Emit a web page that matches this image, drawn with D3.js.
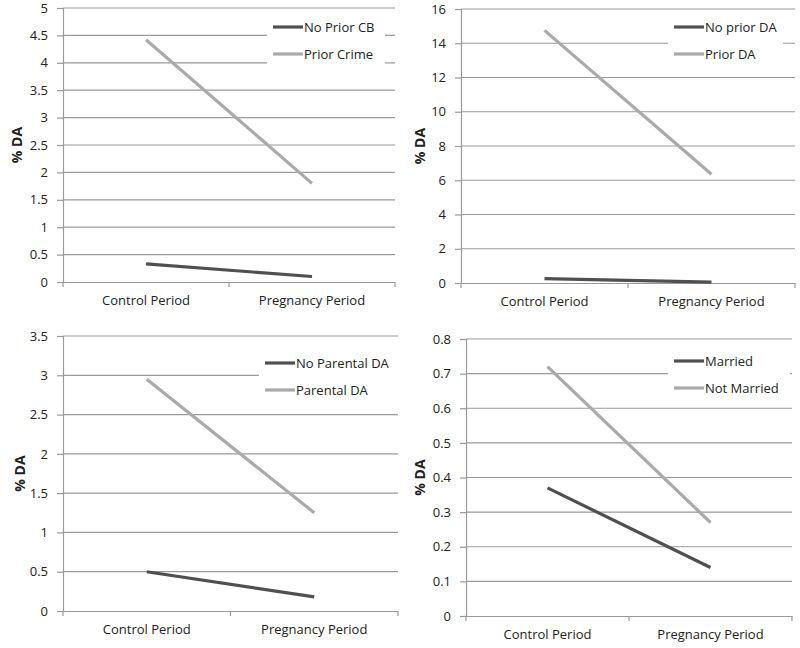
<!DOCTYPE html>
<html><head><meta charset="utf-8">
<script src="https://cdn.jsdelivr.net/npm/d3@7"></script>
<style>body{margin:0;background:#fff}svg{display:block}text{font-family:"Open Sans",sans-serif;fill:#222}</style>
</head><body><svg id="c" width="800" height="648"></svg>
<script>
const categories = ["Control Period", "Pregnancy Period"];
const yLabel = "% DA";

// Panel 1
const p1Names = ["No Prior CB", "Prior Crime"];
const p1Dark = [0.33, 0.10];
const p1Light = [4.42, 1.80];
const p1Ticks = [0, 0.5, 1, 1.5, 2, 2.5, 3, 3.5, 4, 4.5, 5];
// Panel 2
const p2Names = ["No prior DA", "Prior DA"];
const p2Dark = [0.25, 0.05];
const p2Light = [14.75, 6.35];
const p2Ticks = [0, 2, 4, 6, 8, 10, 12, 14, 16];
// Panel 3
const p3Names = ["No Parental DA", "Parental DA"];
const p3Dark = [0.50, 0.18];
const p3Light = [2.95, 1.25];
const p3Ticks = [0, 0.5, 1, 1.5, 2, 2.5, 3, 3.5];
// Panel 4
const p4Names = ["Married", "Not Married"];
const p4Dark = [0.37, 0.14];
const p4Light = [0.72, 0.27];
const p4Ticks = [0, 0.1, 0.2, 0.3, 0.4, 0.5, 0.6, 0.7, 0.8];

const darkColor = "#505050", lightColor = "#aaaaaa", gridColor = "#9a9a9a";

const panels = [
  {names:p1Names, dark:p1Dark, light:p1Light, ticks:p1Ticks, x0:63, x1:395, yTop:8, yBot:282, labX:17, leg:{x:267,y:14,w:118,h:54}},
  {names:p2Names, dark:p2Dark, light:p2Light, ticks:p2Ticks, x0:461, x1:795, yTop:9, yBot:283, labX:420, leg:{x:668,y:14,w:115,h:54}},
  {names:p3Names, dark:p3Dark, light:p3Light, ticks:p3Ticks, x0:63, x1:398, yTop:336, yBot:611, labX:20, leg:{x:259,y:350,w:150,h:54}},
  {names:p4Names, dark:p4Dark, light:p4Light, ticks:p4Ticks, x0:466, x1:792, yTop:339, yBot:616, labX:420, leg:{x:668,y:348,w:122,h:54}}
];

const svg = d3.select("#c");
const fs = "13px";

panels.forEach(p => {
  const g = svg.append("g");
  const y = d3.scaleLinear().domain([0, d3.max(p.ticks)]).range([p.yBot, p.yTop]);
  const x = d3.scaleBand().domain(categories).range([p.x0, p.x1]);

  // gridlines
  g.selectAll(".grid").data(p.ticks.filter(t => t > 0)).join("line")
    .attr("x1", p.x0).attr("x2", p.x1)
    .attr("y1", d => y(d)).attr("y2", d => y(d))
    .attr("stroke", gridColor).attr("stroke-width", 1.2);

  // y axis
  const ya = g.append("g").attr("transform", `translate(${p.x0},0)`)
    .call(d3.axisLeft(y).tickValues(p.ticks).tickSize(6).tickPadding(9).tickFormat(d => String(d)));
  ya.select(".domain").attr("stroke", gridColor).attr("stroke-width", 1.2);
  ya.selectAll(".tick line").attr("stroke", gridColor).attr("stroke-width", 1.2);
  ya.selectAll(".tick text").style("font-size", fs).attr("fill", "#222");

  // x axis
  const xa = g.append("g").attr("transform", `translate(0,${p.yBot})`)
    .call(d3.axisBottom(x).tickSize(0).tickPadding(14));
  xa.select(".domain").attr("stroke", gridColor).attr("stroke-width", 1.2);
  xa.selectAll(".tick text").style("font-size", fs).attr("fill", "#222");
  // category boundary ticks
  const bounds = [p.x0, p.x0 + x.bandwidth(), p.x1];
  g.selectAll(".bt").data(bounds).join("line")
    .attr("x1", d => d).attr("x2", d => d)
    .attr("y1", p.yBot).attr("y2", p.yBot + 5)
    .attr("stroke", gridColor).attr("stroke-width", 1.2);

  // y label
  g.append("text").attr("transform", `translate(${p.labX},${(p.yTop + p.yBot) / 2}) rotate(-90)`)
    .attr("text-anchor", "middle").attr("dy", "0.35em")
    .style("font-size", "14px").style("font-weight", "bold").text(yLabel);

  // legend background
  g.append("rect").attr("x", p.leg.x).attr("y", p.leg.y).attr("width", p.leg.w).attr("height", p.leg.h).attr("fill", "#fff");

  // lines
  const line = d3.line().x((d, i) => x(categories[i]) + x.bandwidth() / 2).y(d => y(d));
  [[p.light, lightColor], [p.dark, darkColor]].forEach(([vals, col]) => {
    g.append("path").datum(vals).attr("d", line).attr("fill", "none")
      .attr("stroke", col).attr("stroke-width", 3.2);
  });

  // legend entries
  [[p.names[0], darkColor], [p.names[1], lightColor]].forEach(([nm, col], i) => {
    const ly = p.leg.y + 13 + i * 27;
    g.append("line").attr("x1", p.leg.x + 6).attr("x2", p.leg.x + 36)
      .attr("y1", ly).attr("y2", ly).attr("stroke", col).attr("stroke-width", 3.2);
    g.append("text").attr("x", p.leg.x + 37).attr("y", ly).attr("dy", "0.35em")
      .style("font-size", fs).text(nm);
  });
});
</script></body></html>
